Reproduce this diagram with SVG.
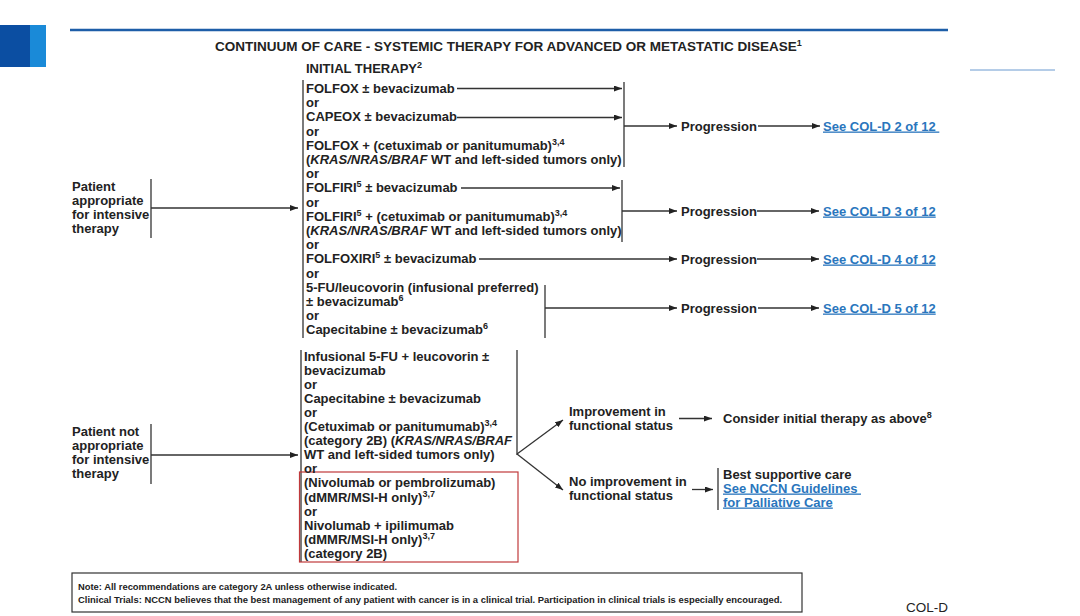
<svg xmlns="http://www.w3.org/2000/svg" width="1080" height="616" viewBox="0 0 1080 616">
<style>
text{font-family:"Liberation Sans",Arial,sans-serif;fill:#222}
.b{font-size:13px;font-weight:bold}
.t{font-size:13.5px;font-weight:bold}
.i{font-style:italic}
.s{font-size:9px}
.lk{fill:#2a76bd;text-decoration:underline}
.ln{stroke:#333;stroke-width:1.3;fill:none}
.ar{marker-end:url(#ah)}
.ft{font-size:9px;font-weight:bold}
</style>
<defs>
<marker id="ah" markerUnits="userSpaceOnUse" markerWidth="8" markerHeight="6" refX="8" refY="3" orient="auto">
<path d="M0,0 L8,3 L0,6 z" fill="#222"/>
</marker>
</defs>
<rect width="1080" height="616" fill="#fff"/>
<g id="header">
<rect x="0" y="25" width="30" height="42" fill="#0b4ea2"/>
<rect x="30" y="25" width="16" height="42" fill="#1a8ad8"/>
<line x1="70" y1="30" x2="948" y2="30" stroke="#1d5ea8" stroke-width="2.5"/>
<line x1="970" y1="70" x2="1055" y2="70" stroke="#6a9ad0" stroke-width="1"/>
<text class="t" x="215" y="51">CONTINUUM OF CARE - SYSTEMIC THERAPY FOR ADVANCED OR METASTATIC DISEASE<tspan class="s" dy="-5">1</tspan></text>
</g>
<g id="connectors">
<line class="ln" x1="303" y1="80" x2="303" y2="338"/>
<line class="ln ar" x1="457" y1="88.5" x2="622" y2="88.5"/>
<line class="ln ar" x1="457" y1="117.5" x2="622" y2="117.5"/>
<line class="ln" x1="624" y1="82" x2="624" y2="167"/>
<line class="ln ar" x1="624" y1="126" x2="677" y2="126"/>
<line class="ln ar" x1="758" y1="126" x2="820" y2="126"/>
<line class="ln ar" x1="461" y1="188" x2="620" y2="188"/>
<line class="ln" x1="622" y1="180" x2="622" y2="242"/>
<line class="ln ar" x1="622" y1="211" x2="677" y2="211"/>
<line class="ln ar" x1="757" y1="211" x2="819" y2="211"/>
<line class="ln ar" x1="479" y1="259" x2="677" y2="259"/>
<line class="ln ar" x1="757" y1="259" x2="819" y2="259"/>
<line class="ln" x1="545" y1="285" x2="545" y2="338"/>
<line class="ln ar" x1="545" y1="308" x2="677" y2="308"/>
<line class="ln ar" x1="758" y1="308" x2="819" y2="308"/>
<line class="ln" x1="151" y1="179" x2="151" y2="238"/>
<line class="ln ar" x1="151" y1="208" x2="298" y2="208"/>
<line class="ln" x1="151" y1="424" x2="151" y2="484"/>
<line class="ln ar" x1="151" y1="455" x2="298" y2="455"/>
<line class="ln" x1="301" y1="350" x2="301" y2="562"/>
<line class="ln" x1="517" y1="350" x2="517" y2="455"/>
<line class="ln ar" x1="517" y1="454" x2="563" y2="420"/>
<line class="ln ar" x1="517" y1="454" x2="563" y2="490"/>
<line class="ln ar" x1="679" y1="418.5" x2="712" y2="418.5"/>
<line class="ln ar" x1="692" y1="489.5" x2="713" y2="489.5"/>
<line class="ln" x1="718" y1="468" x2="718" y2="510"/>
</g>
<g id="patient-appropriate">
<text class="b" x="72" y="190.5">Patient</text>
<text class="b" x="72" y="204.5">appropriate</text>
<text class="b" x="72" y="218.5">for intensive</text>
<text class="b" x="72" y="232.5">therapy</text>
</g>
<g id="initial-therapy">
<text class="b" x="306" y="73">INITIAL THERAPY<tspan class="s" dy="-5">2</tspan></text>
<text class="b" x="306" y="93">FOLFOX ± bevacizumab</text>
<text class="b" x="306" y="107.2">or</text>
<text class="b" x="306" y="121.4">CAPEOX ± bevacizumab</text>
<text class="b" x="306" y="135.6">or</text>
<text class="b" x="306" y="149.8">FOLFOX + (cetuximab or panitumumab)<tspan class="s" dy="-5">3,4</tspan></text>
<text class="b" x="306" y="164">(<tspan class="i">KRAS/NRAS/BRAF</tspan> WT and left-sided tumors only)</text>
<text class="b" x="306" y="178.2">or</text>
<text class="b" x="306" y="192.4">FOLFIRI<tspan class="s" dy="-5">5</tspan><tspan dy="5"> ± bevacizumab</tspan></text>
<text class="b" x="306" y="206.6">or</text>
<text class="b" x="306" y="220.8">FOLFIRI<tspan class="s" dy="-5">5</tspan><tspan dy="5"> + (cetuximab or panitumumab)</tspan><tspan class="s" dy="-5">3,4</tspan></text>
<text class="b" x="306" y="235">(<tspan class="i">KRAS/NRAS/BRAF</tspan> WT and left-sided tumors only)</text>
<text class="b" x="306" y="249.2">or</text>
<text class="b" x="306" y="263.4">FOLFOXIRI<tspan class="s" dy="-5">5</tspan><tspan dy="5"> ± bevacizumab</tspan></text>
<text class="b" x="306" y="277.6">or</text>
<text class="b" x="306" y="291.8">5-FU/leucovorin (infusional preferred)</text>
<text class="b" x="306" y="306">± bevacizumab<tspan class="s" dy="-5">6</tspan></text>
<text class="b" x="306" y="320.2">or</text>
<text class="b" x="306" y="334.4">Capecitabine ± bevacizumab<tspan class="s" dy="-5">6</tspan></text>
</g>
<g id="progression-1">
<text class="b" x="681" y="130.5">Progression</text>
<text class="b lk" x="823" y="130.5" xml:space="preserve">See COL-D 2 of 12 </text>
</g>
<g id="progression-2">
<text class="b" x="681" y="215.5">Progression</text>
<text class="b lk" x="823" y="215.5">See COL-D 3 of 12</text>
</g>
<g id="progression-3">
<text class="b" x="681" y="263.5">Progression</text>
<text class="b lk" x="823" y="263.5">See COL-D 4 of 12</text>
</g>
<g id="progression-4">
<text class="b" x="681" y="312.5">Progression</text>
<text class="b lk" x="823" y="312.5">See COL-D 5 of 12</text>
</g>
<g id="patient-not-appropriate">
<text class="b" x="72" y="435.5">Patient not</text>
<text class="b" x="72" y="449.5">appropriate</text>
<text class="b" x="72" y="464">for intensive</text>
<text class="b" x="72" y="478">therapy</text>
</g>
<g id="non-intensive-therapy">
<rect x="299.5" y="472" width="218.5" height="90" fill="none" stroke="#c0393b" stroke-width="1.2"/>
<text class="b" x="304" y="360.5">Infusional 5-FU + leucovorin ±</text>
<text class="b" x="304" y="374.6">bevacizumab</text>
<text class="b" x="304" y="388.7">or</text>
<text class="b" x="304" y="402.8">Capecitabine ± bevacizumab</text>
<text class="b" x="304" y="416.9">or</text>
<text class="b" x="304" y="431">(Cetuximab or panitumumab)<tspan class="s" dy="-5">3,4</tspan></text>
<text class="b" x="304" y="445.1">(category 2B) (<tspan class="i">KRAS/NRAS/BRAF</tspan></text>
<text class="b" x="304" y="459.2">WT and left-sided tumors only)</text>
<text class="b" x="304" y="473.3">or</text>
<text class="b" x="304" y="487.4">(Nivolumab or pembrolizumab)</text>
<text class="b" x="304" y="501.5">(dMMR/MSI-H only)<tspan class="s" dy="-5">3,7</tspan></text>
<text class="b" x="304" y="515.6">or</text>
<text class="b" x="304" y="529.7">Nivolumab + ipilimumab</text>
<text class="b" x="304" y="543.8">(dMMR/MSI-H only)<tspan class="s" dy="-5">3,7</tspan></text>
<text class="b" x="304" y="557.9">(category 2B)</text>
</g>
<g id="improvement">
<text class="b" x="569" y="415.5">Improvement in</text>
<text class="b" x="569" y="429.5">functional status</text>
</g>
<g id="consider-initial">
<text class="b" x="723" y="423">Consider initial therapy as above<tspan class="s" dy="-5">8</tspan></text>
</g>
<g id="no-improvement">
<text class="b" x="569" y="485.5">No improvement in</text>
<text class="b" x="569" y="499.5">functional status</text>
</g>
<g id="best-supportive-care">
<text class="b" x="723" y="478.5">Best supportive care</text>
<text class="b lk" x="723" y="492.5" xml:space="preserve">See NCCN Guidelines </text>
<text class="b lk" x="723" y="506.5">for Palliative Care</text>
</g>
<g id="footer">
<rect x="72" y="573" width="730" height="39" fill="none" stroke="#333" stroke-width="1.2"/>
<text class="ft" x="78" y="590" textLength="319" lengthAdjust="spacingAndGlyphs">Note: All recommendations are category 2A unless otherwise indicated.</text>
<text class="ft" x="78" y="602.5" textLength="704" lengthAdjust="spacingAndGlyphs">Clinical Trials: NCCN believes that the best management of any patient with cancer is in a clinical trial. Participation in clinical trials is especially encouraged.</text>
<text x="906" y="612" font-size="12.5" textLength="42" lengthAdjust="spacingAndGlyphs">COL-D</text>
</g>
</svg>
